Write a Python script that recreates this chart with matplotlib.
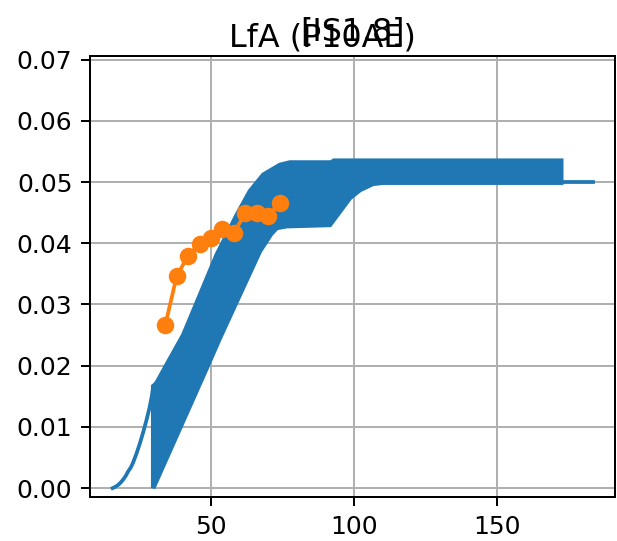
import numpy as np
import matplotlib
matplotlib.use('Agg')
import matplotlib.pyplot as plt

# smooth start of the blue curve
rise_x = [15.6, 16.5, 17.5, 18.4, 19.3, 20.2, 21.0, 22.0, 22.8, 24.0, 25.2, 26.4, 27.5, 28.5, 29.3, 29.8]
rise_y = [0.0, 0.0002, 0.0005, 0.0009, 0.0014, 0.0020, 0.0027, 0.0034, 0.0042, 0.0057, 0.0074, 0.0093, 0.0112, 0.0131, 0.0150, 0.0166]

# envelope of the fast oscillating part
upper_x = [29.8, 31.0, 35.5, 40.3, 46.2, 52.0, 59.0, 63.6, 68.3, 74.1, 77.6, 92.0, 93.0, 172.5]
upper_y = [0.0166, 0.0172, 0.0210, 0.0250, 0.0316, 0.0381, 0.0446, 0.0485, 0.0512, 0.0528, 0.0532, 0.0532, 0.0535, 0.0535]
lower_x = [29.8, 48.5, 53.1, 60.1, 67.1, 71.0, 73.0, 76.5, 91.6, 95.1, 98.6, 102.1, 106.6, 110.0, 172.5]
lower_y = [0.0, 0.0196, 0.0245, 0.0316, 0.0387, 0.0415, 0.0425, 0.0428, 0.0430, 0.0452, 0.0474, 0.0487, 0.0497, 0.0499, 0.0499]

# tail after oscillation ends
tail_x = [172.5, 183.6]
tail_y = [0.0500, 0.0500]

# measured points
obs_x = [34, 38, 42, 46, 50, 54, 58, 62, 66, 70, 74]
obs_y = [0.0266, 0.0346, 0.0380, 0.0399, 0.0408, 0.0423, 0.0417, 0.0449, 0.0449, 0.0445, 0.0466]

fig = plt.figure(figsize=(617/180, 541/180), dpi=180)
ax = fig.add_axes([90/617, 43.7/541, 525/617, 441.3/541])

ax.plot(rise_x, rise_y, color='C0', lw=1.5)
px = upper_x + lower_x[::-1]
py = upper_y + lower_y[::-1]
ax.fill(px, py, color='C0', lw=1.8)
ax.plot(tail_x, tail_y, color='C0', lw=1.5)
ax.plot(obs_x, obs_y, 'o-', color='C1')

ax.set_xlim(7.7, 191.3)
ax.set_ylim(-0.0015, 0.0706)
ax.set_xticks([50, 100, 150])
ax.set_yticks(np.arange(0, 0.071, 0.01))
ax.grid(True)
ax.set_axisbelow(True)

ax.set_title('[IS1.8]', fontsize=12.7)
fig.text(322/617, (541-46.7)/541, 'LfA (P10AE)', ha='center', va='baseline', fontsize=12.7)

fig.savefig('out.png', dpi=180)
